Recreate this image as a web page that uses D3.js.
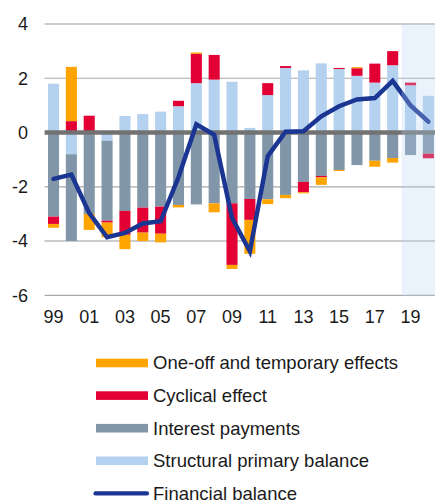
<!DOCTYPE html>
<html>
<head>
<meta charset="utf-8">
<script src="https://cdn.jsdelivr.net/npm/d3@7"></script>
<style>
  html, body { margin: 0; padding: 0; background: #fff; }
  svg { display: block; font-family: "Liberation Sans", Arial, sans-serif; }
</style>
</head>
<body>
<svg id="chart" width="435" height="503"></svg>
<script>
const years = ["1999","2000","2001","2002","2003","2004","2005","2006","2007","2008","2009","2010","2011","2012","2013","2014","2015","2016","2017","2018","2019","2020"];
const yearLabels = ["99","01","03","05","07","09","11","13","15","17","19"];
const structural = [1.8,-0.8,0,-0.3,0.61,0.68,0.77,0.97,1.82,1.95,1.87,0.17,1.38,2.38,2.29,2.55,2.34,2.09,1.84,2.48,1.74,1.35];
const interest = [-3.1,-3.2,-3.0,-2.95,-2.89,-2.77,-2.73,-2.67,-2.65,-2.61,-2.61,-2.45,-2.46,-2.3,-1.82,-1.6,-1.38,-1.2,-1.04,-0.94,-0.83,-0.78];
const cyclical = [-0.27,0.42,0.62,-0.07,-0.88,-0.92,-1.0,0.2,1.08,0.91,-2.27,-0.77,0.44,0.07,-0.38,-0.05,0.04,0.28,0.7,0.52,0.1,-0.17];
const oneoff = [-0.14,2.0,-0.59,-0.54,-0.53,-0.31,-0.32,-0.09,0.05,-0.33,-0.15,-1.25,-0.18,-0.12,-0.04,-0.28,-0.04,0.04,-0.22,-0.17,0,0];
const financial = [-1.71,-1.55,-2.97,-3.86,-3.7,-3.35,-3.27,-1.65,0.3,-0.08,-3.15,-4.38,-0.87,0.03,0.05,0.6,0.97,1.22,1.27,1.9,1.0,0.4];
const yTicks = [-6,-4,-2,0,2,4];
const forecastStart = "2019";

const seriesKeys = ["structural","interest","cyclical","oneoff"];
const seriesNames = {
  oneoff: "One-off and temporary effects",
  cyclical: "Cyclical effect",
  interest: "Interest payments",
  structural: "Structural primary balance",
  financial: "Financial balance"
};
const colors = { oneoff: "#ffa400", cyclical: "#e20035", interest: "#8196a9", structural: "#b4d1ef", financial: "#1b3593" };

const table = years.map((y, i) => ({ year: y, structural: structural[i], interest: interest[i], cyclical: cyclical[i], oneoff: oneoff[i] }));

const svg = d3.select("#chart");
const x0 = 44.6, step = 17.85;
const x = d3.scaleBand().domain(years).range([x0, x0 + step * years.length]).paddingInner(0.38).paddingOuter(0.19);
const y = d3.scaleLinear().domain([-6, 4]).range([295.3, 24]);
const plotRight = 435;

// gridlines
svg.append("g").selectAll("line").data(yTicks.filter(d => d !== 0)).join("line")
  .attr("x1", x0).attr("x2", plotRight)
  .attr("y1", d => y(d)).attr("y2", d => y(d))
  .attr("stroke", d => (d === 4 || d === -4) ? "#cccccc" : "#a8a8a8")
  .attr("stroke-width", d => (d === 4 || d === -4) ? 2 : 1.2);

// y labels
svg.append("g").selectAll("text").data(yTicks).join("text")
  .attr("x", 28).attr("y", d => y(d)).attr("dy", "0.35em")
  .attr("text-anchor", "end").attr("font-size", 18).attr("fill", "#1a1a1a")
  .text(d => d);

// stacked bars
const stack = d3.stack().keys(seriesKeys).offset(d3.stackOffsetDiverging);
const stacked = stack(table);
svg.append("g").selectAll("g").data(stacked).join("g")
  .attr("fill", d => colors[d.key])
  .selectAll("rect").data(d => d).join("rect")
  .attr("x", d => x(d.data.year))
  .attr("width", x.bandwidth())
  .attr("y", d => y(Math.max(d[0], d[1])))
  .attr("height", d => Math.abs(y(d[0]) - y(d[1])));

// zero line
svg.append("line").attr("x1", x0).attr("x2", plotRight).attr("y1", y(0)).attr("y2", y(0))
  .attr("stroke", "#727272").attr("stroke-width", 4.5);

// financial balance line
const line = d3.line().x((d, i) => x(years[i]) + x.bandwidth() / 2).y(d => y(d));
svg.append("path").datum(financial).attr("d", line)
  .attr("fill", "none").attr("stroke", colors.financial).attr("stroke-width", 4.5)
  .attr("stroke-linejoin", "miter").attr("stroke-linecap", "round");

// forecast shading overlay
const fx = x(forecastStart) + x.bandwidth() / 2 - x.step() / 2;
svg.append("rect").attr("x", fx).attr("y", y(4)).attr("width", plotRight - fx).attr("height", y(-6) - y(4) + 1)
  .attr("fill", "rgb(180,210,240)").attr("fill-opacity", 0.28);

// x labels
svg.append("g").selectAll("text").data(yearLabels).join("text")
  .attr("x", d => x((+d < 50 ? "20" : "19") + d) + x.bandwidth() / 2)
  .attr("y", 323).attr("text-anchor", "middle").attr("font-size", 18).attr("fill", "#1a1a1a")
  .text(d => d);

// legend
const legendItems = ["oneoff","cyclical","interest","structural","financial"];
const lg = svg.append("g");
legendItems.forEach((k, i) => {
  const cy = 363 + i * 32.6;
  if (k === "financial") {
    lg.append("line").attr("x1", 95.5).attr("x2", 147).attr("y1", cy).attr("y2", cy)
      .attr("stroke", colors[k]).attr("stroke-width", 4.2).attr("stroke-linecap", "round");
  } else {
    lg.append("rect").attr("x", 96).attr("y", cy - 4.3).attr("width", 52).attr("height", 8.6).attr("fill", colors[k]);
  }
  lg.append("text").attr("x", 153).attr("y", cy).attr("dy", "0.35em").attr("font-size", 18.5).attr("fill", "#1a1a1a")
    .text(seriesNames[k]);
});
</script>
</body>
</html>
